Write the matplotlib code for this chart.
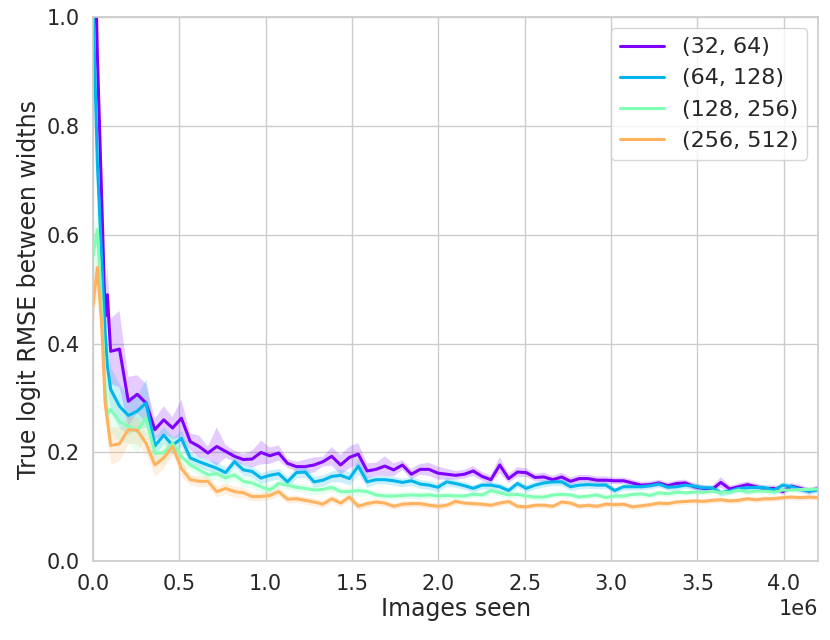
import numpy as np
import matplotlib
matplotlib.use("Agg")
import matplotlib.pyplot as plt
import seaborn as sns

# images seen: a few early logging points, then every 51200 images
images_seen = np.concatenate([[0, 25600, 51200, 70400, 83200], 51200 * np.arange(2, 83)])

labels = ["(32, 64)", "(64, 128)", "(128, 256)", "(256, 512)"]

rmse_32 = [1.30, 0.93, 0.66, 0.45, 0.49,
    0.386, 0.390, 0.294, 0.307, 0.291, 0.242, 0.260, 0.245, 0.263, 0.220,
    0.211, 0.199, 0.211, 0.202, 0.193, 0.187, 0.188, 0.200, 0.194, 0.199,
    0.180, 0.174, 0.174, 0.177, 0.183, 0.193, 0.177, 0.191, 0.197, 0.166,
    0.169, 0.175, 0.168, 0.177, 0.160, 0.169, 0.169, 0.162, 0.160, 0.158,
    0.160, 0.166, 0.156, 0.150, 0.177, 0.152, 0.164, 0.163, 0.154, 0.155,
    0.150, 0.155, 0.147, 0.152, 0.152, 0.149, 0.149, 0.148, 0.148, 0.144,
    0.140, 0.141, 0.144, 0.139, 0.143, 0.144, 0.137, 0.134, 0.132, 0.145,
    0.133, 0.137, 0.141, 0.137, 0.133, 0.134, 0.128, 0.138, 0.134, 0.129,
    0.134]
rmse_64 = [1.03, 0.73, 0.55, 0.42, 0.36,
    0.316, 0.285, 0.268, 0.276, 0.291, 0.212, 0.232, 0.213, 0.226, 0.190,
    0.183, 0.177, 0.171, 0.163, 0.183, 0.168, 0.165, 0.153, 0.158, 0.161,
    0.146, 0.163, 0.164, 0.146, 0.149, 0.156, 0.158, 0.152, 0.175, 0.146,
    0.150, 0.150, 0.148, 0.145, 0.148, 0.142, 0.140, 0.136, 0.146, 0.143,
    0.139, 0.134, 0.140, 0.140, 0.137, 0.130, 0.143, 0.134, 0.140, 0.144,
    0.146, 0.146, 0.137, 0.140, 0.141, 0.140, 0.140, 0.130, 0.137, 0.137,
    0.137, 0.139, 0.142, 0.136, 0.137, 0.140, 0.138, 0.135, 0.135, 0.126,
    0.129, 0.134, 0.135, 0.136, 0.135, 0.131, 0.140, 0.137, 0.132, 0.129,
    0.131]
rmse_128 = [0.56, 0.61, 0.46, 0.32, 0.27,
    0.279, 0.257, 0.248, 0.239, 0.263, 0.199, 0.199, 0.217, 0.193, 0.177,
    0.168, 0.159, 0.161, 0.153, 0.159, 0.147, 0.144, 0.137, 0.131, 0.143,
    0.140, 0.136, 0.134, 0.131, 0.132, 0.136, 0.128, 0.128, 0.130, 0.128,
    0.122, 0.120, 0.120, 0.121, 0.122, 0.121, 0.122, 0.120, 0.121, 0.120,
    0.120, 0.123, 0.122, 0.130, 0.126, 0.122, 0.123, 0.120, 0.118, 0.118,
    0.122, 0.123, 0.122, 0.118, 0.120, 0.122, 0.117, 0.120, 0.120, 0.123,
    0.124, 0.121, 0.126, 0.124, 0.127, 0.126, 0.127, 0.127, 0.129, 0.126,
    0.127, 0.131, 0.127, 0.129, 0.129, 0.127, 0.131, 0.131, 0.132, 0.132,
    0.133]
rmse_256 = [0.47, 0.54, 0.43, 0.29, 0.26,
    0.213, 0.216, 0.242, 0.241, 0.217, 0.177, 0.190, 0.211, 0.171, 0.150,
    0.147, 0.147, 0.128, 0.134, 0.128, 0.126, 0.119, 0.119, 0.121, 0.128,
    0.114, 0.115, 0.112, 0.109, 0.105, 0.115, 0.107, 0.118, 0.101, 0.106,
    0.109, 0.107, 0.101, 0.105, 0.106, 0.106, 0.103, 0.101, 0.103, 0.110,
    0.107, 0.106, 0.105, 0.103, 0.107, 0.110, 0.101, 0.100, 0.103, 0.103,
    0.101, 0.109, 0.107, 0.101, 0.103, 0.101, 0.105, 0.104, 0.105, 0.100,
    0.102, 0.104, 0.107, 0.106, 0.109, 0.110, 0.111, 0.110, 0.112, 0.113,
    0.111, 0.112, 0.115, 0.113, 0.115, 0.115, 0.117, 0.118, 0.117, 0.118,
    0.117]

# half widths of the shaded bands
ci_32 = [0.05, 0.05, 0.05, 0.04, 0.05,
    0.060, 0.070, 0.045, 0.035, 0.035, 0.020, 0.025, 0.020, 0.035, 0.015,
    0.020, 0.012, 0.035, 0.012, 0.010, 0.010, 0.015, 0.022, 0.015, 0.014,
    0.008, 0.009, 0.013, 0.014, 0.009, 0.017, 0.018, 0.020, 0.020, 0.014,
    0.012, 0.018, 0.012, 0.009, 0.010, 0.010, 0.012, 0.012, 0.010, 0.008,
    0.008, 0.009, 0.008, 0.008, 0.015, 0.008, 0.009, 0.008, 0.007, 0.008,
    0.007, 0.008, 0.007, 0.007, 0.007, 0.007, 0.007, 0.006, 0.006, 0.006,
    0.006, 0.006, 0.006, 0.006, 0.006, 0.006, 0.006, 0.006, 0.006, 0.010,
    0.006, 0.006, 0.006, 0.006, 0.006, 0.006, 0.006, 0.006, 0.006, 0.006,
    0.005]
ci_64 = [0.03, 0.03, 0.04, 0.04, 0.04,
    0.040, 0.040, 0.035, 0.030, 0.045, 0.018, 0.015, 0.015, 0.015, 0.012,
    0.010, 0.010, 0.012, 0.010, 0.010, 0.010, 0.010, 0.010, 0.010, 0.010,
    0.010, 0.010, 0.010, 0.010, 0.010, 0.010, 0.012, 0.012, 0.015, 0.010,
    0.008, 0.008, 0.008, 0.008, 0.008, 0.008, 0.008, 0.008, 0.008, 0.007,
    0.007, 0.007, 0.007, 0.007, 0.007, 0.007, 0.007, 0.007, 0.007, 0.007,
    0.007, 0.007, 0.007, 0.007, 0.007, 0.007, 0.007, 0.006, 0.006, 0.006,
    0.006, 0.006, 0.006, 0.006, 0.006, 0.006, 0.006, 0.006, 0.006, 0.006,
    0.006, 0.006, 0.006, 0.006, 0.006, 0.006, 0.006, 0.006, 0.006, 0.006,
    0.005]
ci_128 = [0.04, 0.05, 0.05, 0.04, 0.04,
    0.040, 0.035, 0.030, 0.040, 0.030, 0.020, 0.020, 0.018, 0.015, 0.010,
    0.010, 0.010, 0.010, 0.010, 0.010, 0.010, 0.010, 0.010, 0.010, 0.008,
    0.008, 0.008, 0.008, 0.008, 0.008, 0.008, 0.008, 0.008, 0.008, 0.007,
    0.007, 0.007, 0.007, 0.007, 0.007, 0.007, 0.007, 0.007, 0.007, 0.006,
    0.006, 0.006, 0.006, 0.007, 0.006, 0.006, 0.006, 0.006, 0.006, 0.006,
    0.005, 0.005, 0.005, 0.005, 0.005, 0.005, 0.005, 0.005, 0.005, 0.005,
    0.005, 0.005, 0.005, 0.005, 0.005, 0.005, 0.005, 0.005, 0.005, 0.005,
    0.005, 0.005, 0.005, 0.005, 0.005, 0.005, 0.005, 0.005, 0.005, 0.005,
    0.005]
ci_256 = [0.04, 0.03, 0.04, 0.03, 0.03,
    0.035, 0.030, 0.025, 0.025, 0.020, 0.020, 0.018, 0.015, 0.015, 0.010,
    0.010, 0.010, 0.010, 0.010, 0.010, 0.010, 0.008, 0.008, 0.008, 0.008,
    0.007, 0.007, 0.007, 0.007, 0.007, 0.007, 0.007, 0.007, 0.007, 0.006,
    0.006, 0.006, 0.006, 0.006, 0.006, 0.006, 0.006, 0.006, 0.006, 0.006,
    0.005, 0.005, 0.005, 0.005, 0.005, 0.005, 0.005, 0.005, 0.005, 0.005,
    0.005, 0.005, 0.005, 0.005, 0.005, 0.005, 0.005, 0.005, 0.005, 0.005,
    0.005, 0.005, 0.005, 0.005, 0.005, 0.005, 0.005, 0.005, 0.005, 0.005,
    0.005, 0.005, 0.005, 0.005, 0.005, 0.005, 0.005, 0.005, 0.005, 0.005,
    0.005]

sns.set_theme(style="whitegrid")
plt.rcParams["xtick.labelsize"] = 15
plt.rcParams["ytick.labelsize"] = 15
plt.rcParams["axes.labelsize"] = 17
plt.rcParams["legend.fontsize"] = 16
colors = plt.cm.rainbow(np.linspace(0, 1, 5))[:4]

fig = plt.figure(figsize=(8.3, 6.4), dpi=100)
ax = fig.add_axes([0.112, 0.123, 0.874, 0.850])

series = [rmse_32, rmse_64, rmse_128, rmse_256]
bands = [ci_32, ci_64, ci_128, ci_256]
for lab, y, ci, c in zip(labels, series, bands, colors):
    y = np.array(y)
    ci = np.array(ci)
    ax.plot(images_seen, y, color=c, lw=2.2, label=lab)
    ax.fill_between(images_seen, y - ci, y + ci, color=c, alpha=0.2, lw=0, zorder=1)

ax.set_xlim(0, 4.2e6)
ax.set_ylim(0, 1.0)
ax.set_xlabel("Images seen", labelpad=2)
ax.set_ylabel("True logit RMSE between widths")
ax.xaxis.get_offset_text().set_fontsize(15)
ax.legend(loc="upper right")

fig.savefig("out.png")
